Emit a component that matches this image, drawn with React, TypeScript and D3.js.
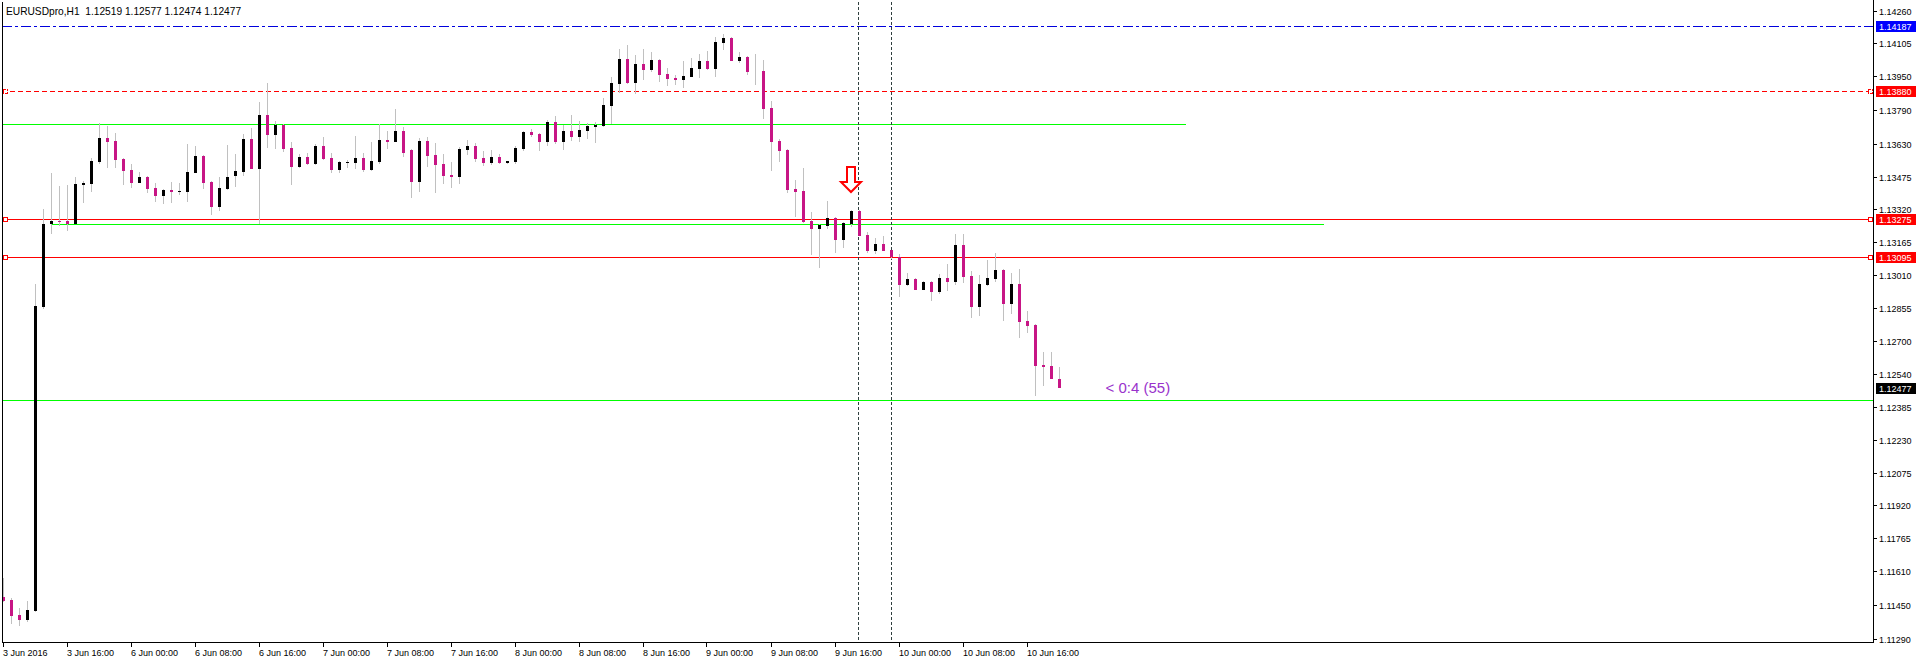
import React from 'react';
import * as d3 from 'd3';

// ---------- data ----------
const titleText = 'EURUSDpro,H1  1.12519 1.12577 1.12474 1.12477';

const opens = [
  1.11488, 1.11472, 1.11403, 1.11378, 1.11420, 1.12858, 1.13251, 1.13265, 1.13265, 1.13251,
  1.13435, 1.13440, 1.13544, 1.13658, 1.13644, 1.13558, 1.13506, 1.13445, 1.13473, 1.13421,
  1.13383, 1.13412, 1.13402, 1.13402, 1.13492, 1.13573, 1.13450, 1.13331, 1.13416, 1.13478,
  1.13497, 1.13653, 1.13511, 1.13767, 1.13672, 1.13719, 1.13610, 1.13521, 1.13568, 1.13535,
  1.13620, 1.13563, 1.13506, 1.13539, 1.13539, 1.13563, 1.13506, 1.13544, 1.13648, 1.13639,
  1.13691, 1.13601, 1.13450, 1.13644, 1.13577, 1.13535, 1.13483, 1.13473, 1.13601, 1.13620,
  1.13563, 1.13539, 1.13568, 1.13539, 1.13544, 1.13606, 1.13686, 1.13677, 1.13639, 1.13733,
  1.13639, 1.13691, 1.13662, 1.13691, 1.13710, 1.13714, 1.13809, 1.13913, 1.14031, 1.13918,
  1.14008, 1.13979, 1.14027, 1.13960, 1.13942, 1.13932, 1.13946, 1.13984, 1.14022, 1.13984,
  1.14107, 1.14131, 1.14022, 1.14041, 1.13965, 1.13975, 1.13800, 1.13644, 1.13601, 1.13416,
  1.13407, 1.13265, 1.13227, 1.13241, 1.13279, 1.13175, 1.13251, 1.13312, 1.13199, 1.13123,
  1.13156, 1.13128, 1.13095, 1.12962, 1.12991, 1.12939, 1.12977, 1.12929, 1.12996, 1.12977,
  1.13152, 1.13005, 1.12858, 1.12962, 1.12991, 1.13033, 1.12873, 1.12967, 1.12792, 1.12773,
  1.12584, 1.12579, 1.12519,
];
const highs = [
  1.11578, 1.11483, 1.11436, 1.11468, 1.12967, 1.13322, 1.13492, 1.13431, 1.13435, 1.13473,
  1.13454, 1.13563, 1.13729, 1.13714, 1.13681, 1.13563, 1.13535, 1.13497, 1.13478, 1.13445,
  1.13416, 1.13450, 1.13445, 1.13629, 1.13620, 1.13577, 1.13454, 1.13473, 1.13625, 1.13582,
  1.13677, 1.13705, 1.13828, 1.13918, 1.13738, 1.13724, 1.13639, 1.13582, 1.13587, 1.13629,
  1.13662, 1.13587, 1.13549, 1.13554, 1.13667, 1.13587, 1.13639, 1.13724, 1.13691, 1.13795,
  1.13710, 1.13606, 1.13658, 1.13662, 1.13634, 1.13582, 1.13544, 1.13615, 1.13648, 1.13634,
  1.13596, 1.13601, 1.13582, 1.13551, 1.13620, 1.13691, 1.13700, 1.13681, 1.13743, 1.13762,
  1.13719, 1.13767, 1.13738, 1.13729, 1.13733, 1.13847, 1.13946, 1.14079, 1.14098, 1.14050,
  1.14079, 1.14064, 1.14031, 1.13989, 1.13956, 1.14022, 1.14036, 1.14055, 1.14069, 1.14135,
  1.14150, 1.14135, 1.14064, 1.14046, 1.14055, 1.14027, 1.13833, 1.13653, 1.13606, 1.13459,
  1.13516, 1.13308, 1.13251, 1.13360, 1.13284, 1.13260, 1.13317, 1.13317, 1.13213, 1.13185,
  1.13194, 1.13130, 1.13109, 1.13019, 1.12996, 1.12981, 1.12981, 1.13014, 1.13062, 1.13204,
  1.13204, 1.13029, 1.13010, 1.13081, 1.13114, 1.13038, 1.13019, 1.13038, 1.12839, 1.12778,
  1.12645, 1.12645, 1.12577,
];
const lows = [
  1.11463, 1.11359, 1.11349, 1.11370, 1.11416, 1.12849, 1.13204, 1.13241, 1.13218, 1.13249,
  1.13350, 1.13402, 1.13535, 1.13516, 1.13516, 1.13435, 1.13421, 1.13443, 1.13398, 1.13355,
  1.13346, 1.13350, 1.13388, 1.13355, 1.13490, 1.13416, 1.13294, 1.13312, 1.13414, 1.13426,
  1.13478, 1.13509, 1.13251, 1.13610, 1.13606, 1.13591, 1.13435, 1.13516, 1.13530, 1.13530,
  1.13554, 1.13492, 1.13492, 1.13516, 1.13511, 1.13497, 1.13504, 1.13535, 1.13606, 1.13637,
  1.13568, 1.13374, 1.13402, 1.13521, 1.13398, 1.13440, 1.13421, 1.13440, 1.13577, 1.13544,
  1.13525, 1.13530, 1.13535, 1.13537, 1.13535, 1.13596, 1.13662, 1.13596, 1.13620, 1.13629,
  1.13601, 1.13644, 1.13639, 1.13653, 1.13634, 1.13712, 1.13724, 1.13871, 1.13913, 1.13866,
  1.13932, 1.13970, 1.13923, 1.13904, 1.13908, 1.13894, 1.13944, 1.13942, 1.13979, 1.13946,
  1.14074, 1.14020, 1.14012, 1.13956, 1.13908, 1.13748, 1.13502, 1.13544, 1.13398, 1.13284,
  1.13258, 1.13104, 1.13043, 1.13227, 1.13114, 1.13137, 1.13237, 1.13192, 1.13114, 1.13109,
  1.13121, 1.13085, 1.12906, 1.12958, 1.12937, 1.12937, 1.12887, 1.12920, 1.12934, 1.12962,
  1.12972, 1.12806, 1.12816, 1.12958, 1.12977, 1.12792, 1.12825, 1.12712, 1.12735, 1.12437,
  1.12485, 1.12516, 1.12474,
];
const closes = [
  1.11468, 1.11397, 1.11378, 1.11425, 1.12863, 1.13251, 1.13265, 1.13260, 1.13251, 1.13440,
  1.13445, 1.13549, 1.13658, 1.13639, 1.13554, 1.13502, 1.13445, 1.13473, 1.13416, 1.13383,
  1.13412, 1.13402, 1.13407, 1.13497, 1.13573, 1.13445, 1.13331, 1.13421, 1.13473, 1.13502,
  1.13653, 1.13511, 1.13767, 1.13672, 1.13719, 1.13606, 1.13521, 1.13568, 1.13535, 1.13620,
  1.13558, 1.13506, 1.13544, 1.13544, 1.13563, 1.13506, 1.13549, 1.13648, 1.13639, 1.13691,
  1.13587, 1.13450, 1.13644, 1.13573, 1.13530, 1.13478, 1.13473, 1.13606, 1.13620, 1.13558,
  1.13539, 1.13568, 1.13539, 1.13549, 1.13610, 1.13686, 1.13672, 1.13639, 1.13733, 1.13639,
  1.13691, 1.13662, 1.13696, 1.13714, 1.13719, 1.13814, 1.13918, 1.14031, 1.13918, 1.14008,
  1.13979, 1.14027, 1.13956, 1.13937, 1.13932, 1.13951, 1.13989, 1.14022, 1.13984, 1.14112,
  1.14131, 1.14022, 1.14041, 1.13970, 1.13965, 1.13795, 1.13639, 1.13596, 1.13412, 1.13402,
  1.13260, 1.13227, 1.13246, 1.13279, 1.13175, 1.13256, 1.13312, 1.13194, 1.13123, 1.13156,
  1.13123, 1.13095, 1.12962, 1.12991, 1.12939, 1.12977, 1.12929, 1.12996, 1.12977, 1.13152,
  1.13000, 1.12858, 1.12967, 1.12996, 1.13033, 1.12873, 1.12967, 1.12787, 1.12768, 1.12579,
  1.12575, 1.12518, 1.12477,
];

const priceTicks = [
  1.1426, 1.14105, 1.1395, 1.1379, 1.1363, 1.13475, 1.1332, 1.13165, 1.1301, 1.12855,
  1.127, 1.1254, 1.12385, 1.1223, 1.12075, 1.1192, 1.11765, 1.1161, 1.1145, 1.1129,
];

const timeTickBars = [0, 8, 16, 24, 32, 40, 48, 56, 64, 72, 80, 88, 96, 104, 112, 120, 128];
const timeTickTexts = [
  '3 Jun 2016', '3 Jun 16:00', '6 Jun 00:00', '6 Jun 08:00', '6 Jun 16:00', '7 Jun 00:00',
  '7 Jun 08:00', '7 Jun 16:00', '8 Jun 00:00', '8 Jun 08:00', '8 Jun 16:00', '9 Jun 00:00',
  '9 Jun 08:00', '9 Jun 16:00', '10 Jun 00:00', '10 Jun 08:00', '10 Jun 16:00',
];

// horizontal level lines
const levelPrices = [1.14187, 1.1388, 1.13275, 1.13095];
const levelColors = ['#0000dd', '#ff0000', '#ff0000', '#ff0000'];
const levelDash = ['10,3,3,3', '5,3', '', ''];

// green trend lines (horizontal)
const greenPrices = [1.13723, 1.1325, 1.12417];
const greenFromBars = [null, 6, null];
const greenToBars = [147.75, 165, null];

const lastPrice = 1.12477;
const arrowBar = 106;
const arrowTipPrice = 1.13402;
const vLineBars = [107, 111];
const timerText = '< 0:4 (55)';

// ---------- layout ----------
const W = 1916;
const H = 660;
const plotLeft = 2;
const plotRight = 1873;
const plotTop = 2;
const plotBottom = 642;
const FONT = '"Liberation Sans", Arial, sans-serif';
const BULL = '#000000';
const BEAR = '#C71585';
const WICK = '#C0C0C0';

export default function App() {
  const N = opens.length;
  const x = d3.scaleLinear().domain([0, N - 1]).range([3.5, 3.5 + 8 * (N - 1)]);
  const y = d3.scaleLinear().domain([1.11274, 1.14301]).range([plotBottom, plotTop]);
  const ry = (p: number) => Math.round(y(p));
  const ly = (p: number) => Math.round(y(p)) + 0.5;

  const candles = d3.range(N).map((i) => {
    const cx = x(i);
    const o = opens[i], c = closes[i], h = highs[i], l = lows[i];
    const top = ry(Math.max(o, c));
    const bot = ry(Math.min(o, c));
    return (
      <g key={i}>
        <rect x={cx - 0.5} y={ry(h)} width={1} height={Math.max(1, ry(l) - ry(h))} fill={WICK} />
        {o !== c && (
          <rect x={cx - 1.5} y={top} width={3} height={Math.max(1, bot - top)} fill={c > o ? BULL : BEAR} />
        )}
      </g>
    );
  });

  const boxLabel = (p: number, bg: string, key: string) => {
    const yy = ly(p);
    return (
      <g key={key}>
        <rect x={1876} y={Math.round(yy - 5.5)} width={40} height={11} fill={bg} />
        <text x={1879} y={yy + 3.3} fontSize={9} fontFamily={FONT} fill="#ffffff">
          {p.toFixed(5)}
        </text>
      </g>
    );
  };

  const ax = x(arrowBar) - 0.5;
  const at = ry(arrowTipPrice);
  const arrowPath = [
    [ax - 4, at - 25],
    [ax + 4, at - 25],
    [ax + 4, at - 10],
    [ax + 10, at - 10],
    [ax, at],
    [ax - 10, at - 10],
    [ax - 4, at - 10],
  ];

  return (
    <svg
      width={W}
      height={H}
      style={{ position: 'absolute', left: 0, top: 0, background: '#ffffff' }}
      shapeRendering="crispEdges"
    >
      <rect x={0} y={0} width={W} height={H} fill="#ffffff" />
      <defs>
        <clipPath id="plot">
          <rect x={plotLeft} y={plotTop} width={plotRight - plotLeft} height={plotBottom - plotTop} />
        </clipPath>
      </defs>

      <g clipPath="url(#plot)">
        {/* green lines */}
        {greenPrices.map((p, i) => {
          const fb = greenFromBars[i];
          const tb = greenToBars[i];
          return (
            <line
              key={'g' + i}
              x1={fb == null ? plotLeft : x(fb)}
              x2={tb == null ? plotRight : x(tb)}
              y1={ly(p)}
              y2={ly(p)}
              stroke="#00ff00"
              strokeWidth={1}
            />
          );
        })}
        {/* levels */}
        {levelPrices.map((p, i) => (
          <line
            key={'l' + i}
            x1={plotLeft}
            x2={plotRight}
            y1={ly(p)}
            y2={ly(p)}
            stroke={levelColors[i]}
            strokeWidth={1}
            strokeDasharray={levelDash[i] || undefined}
          />
        ))}
        {/* vertical dashed lines */}
        {vLineBars.map((b) => (
          <line
            key={'v' + b}
            x1={Math.round(x(b)) - 0.5}
            x2={Math.round(x(b)) - 0.5}
            y1={plotTop}
            y2={plotBottom}
            stroke="#2f3f3f"
            strokeWidth={1}
            strokeDasharray="3,2"
          />
        ))}
        {candles}
        {/* selection markers on red levels */}
        {levelPrices.map((p, i) =>
          i === 0 ? null : (
            <g key={'m' + i}>
              <rect x={3.5} y={ly(p) - 2} width={4} height={4} fill="#ffffff" stroke="#ff0000"
                strokeDasharray={levelDash[i] ? '2,1' : undefined} />
              <rect x={1868.5} y={ly(p) - 2} width={4} height={4} fill="#ffffff" stroke="#ff0000"
                strokeDasharray={levelDash[i] ? '2,1' : undefined} />
            </g>
          )
        )}
        {/* arrow */}
        <path
          d={'M' + arrowPath.map((pt) => pt.join(',')).join('L') + 'Z'}
          fill="#ffffff"
          stroke="#ff0000"
          strokeWidth={2}
          shapeRendering="geometricPrecision"
        />
        {/* timer text */}
        <text
          x={x(N - 1 + 6) - 2}
          y={y(closes[N - 1]) + 5}
          fontSize={15}
          fontFamily={FONT}
          fill="#9932CC"
          shapeRendering="geometricPrecision"
        >
          {timerText}
        </text>
      </g>

      {/* frame */}
      <line x1={plotLeft + 0.5} x2={plotLeft + 0.5} y1={plotTop} y2={plotBottom} stroke="#000" />
      <line x1={plotRight + 0.5} x2={plotRight + 0.5} y1={0} y2={plotBottom + 0.5} stroke="#000" />
      <line x1={plotLeft} x2={plotRight + 1} y1={plotBottom + 0.5} y2={plotBottom + 0.5} stroke="#000" />

      {/* title */}
      <text x={6} y={14.5} fontSize={10.2} fontFamily={FONT} fill="#000" style={{ whiteSpace: 'pre' }}>
        {titleText}
      </text>

      {/* price axis */}
      {priceTicks.map((p) => {
        const yy = ly(p);
        return (
          <g key={'pt' + p}>
            <line x1={plotRight + 1} x2={plotRight + 4} y1={yy} y2={yy} stroke="#000" />
            <text x={1879} y={yy + 3.3} fontSize={9} fontFamily={FONT} fill="#000">
              {p.toFixed(5)}
            </text>
          </g>
        );
      })}
      {boxLabel(levelPrices[0], '#0000ff', 'b0')}
      {boxLabel(levelPrices[1], '#ff0000', 'b1')}
      {boxLabel(levelPrices[2], '#ff0000', 'b2')}
      {boxLabel(levelPrices[3], '#ff0000', 'b3')}
      {boxLabel(lastPrice, '#000000', 'b4')}

      {/* time axis */}
      {timeTickBars.map((b, i) => {
        const xx = Math.round(x(b)) - 0.5;
        return (
          <g key={'tt' + b}>
            <line x1={xx} x2={xx} y1={plotBottom + 1} y2={plotBottom + 5} stroke="#000" />
            <text x={xx - 0.5} y={656} fontSize={9} fontFamily={FONT} fill="#000">
              {timeTickTexts[i]}
            </text>
          </g>
        );
      })}
    </svg>
  );
}
